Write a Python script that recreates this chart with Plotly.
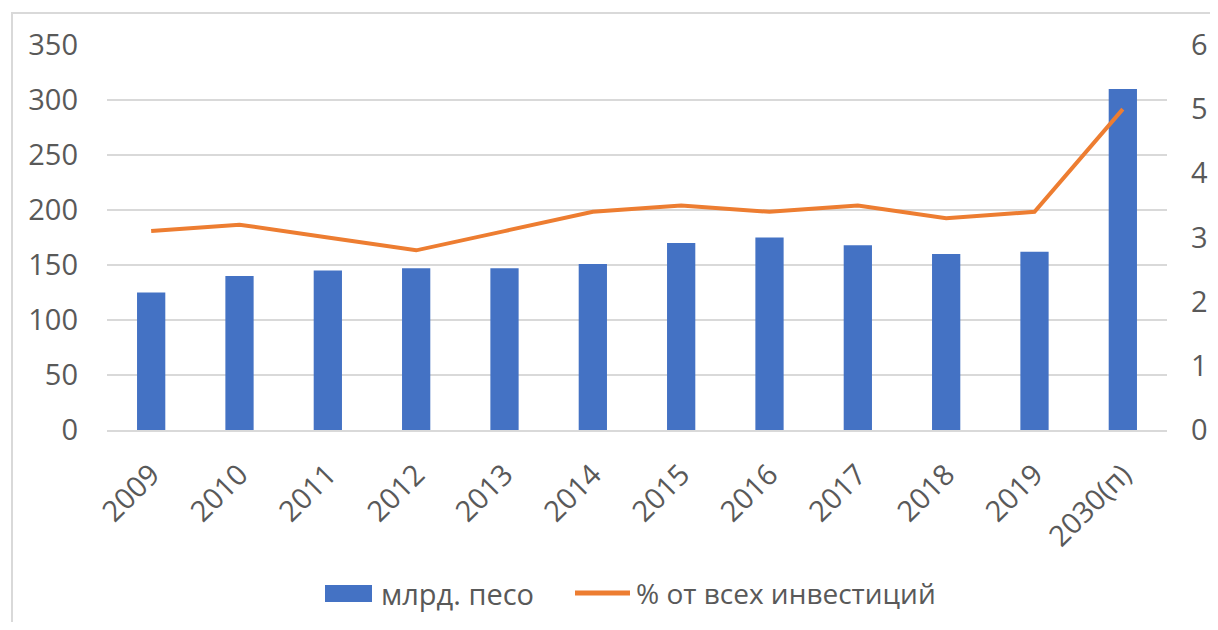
import plotly.graph_objects as go

categories = ["2009", "2010", "2011", "2012", "2013", "2014", "2015", "2016",
              "2017", "2018", "2019", "2030(п)"]
bn_peso = [125, 140, 145, 147, 147, 151, 170, 175, 168, 160, 162, 310]
pct_invest = [3.1, 3.2, 3.0, 2.8, 3.1, 3.4, 3.5, 3.4, 3.5, 3.3, 3.4, 5.0]

bar_name = "млрд. песо"
line_name = "% от всех инвестиций"

FONT = "Open Sans, Noto Sans, sans-serif"
TXT = "#595959"
GRID = "#D9D9D9"
BLUE = "#4472C4"
ORANGE = "#ED7D31"
FS = 29

# figure geometry (page body has an 8px margin)
W, H = 1202, 614
L, R, T, B = 99, 43, 37, 192
PW, PH = W - L - R, H - T - B


def px(x):
    return (x - L) / PW


def py(y):
    return (H - B - y) / PH


fig = go.Figure()
fig.add_trace(go.Bar(x=categories, y=bn_peso, name=bar_name,
                     marker=dict(color=BLUE, line=dict(width=0)),
                     yaxis="y", showlegend=False))
fig.add_trace(go.Scatter(x=categories, y=pct_invest, name=line_name,
                         mode="lines", line=dict(color=ORANGE, width=4),
                         yaxis="y2", showlegend=False))

shapes = [
    dict(type="rect", xref="paper", yref="paper",
         x0=px(4), x1=1.2, y0=-0.7, y1=py(5),
         line=dict(color=GRID, width=2), fillcolor="rgba(0,0,0,0)",
         layer="below"),
    # legend keys
    dict(type="rect", xref="paper", yref="paper",
         x0=px(317), x1=px(364), y0=py(594), y1=py(577),
         line=dict(width=0), fillcolor=BLUE),
    dict(type="line", xref="paper", yref="paper",
         x0=px(567), x1=px(622), y0=py(585), y1=py(585),
         line=dict(color=ORANGE, width=5)),
]
annotations = [
    dict(text=bar_name, xref="paper", yref="paper", x=px(371), y=py(585),
         xanchor="left", yanchor="middle", showarrow=False,
         font=dict(size=FS, color=TXT, family=FONT)),
    dict(text=line_name, xref="paper", yref="paper", x=px(626), y=py(585),
         xanchor="left", yanchor="middle", showarrow=False,
         font=dict(size=FS - 1, color=TXT, family=FONT)),
]

fig.update_layout(
    width=W, height=H,
    margin=dict(l=L, r=R, t=T, b=B, autoexpand=False),
    paper_bgcolor="white", plot_bgcolor="white",
    font=dict(family=FONT, size=FS, color=TXT),
    bargap=0.68,
    showlegend=False,
    xaxis=dict(type="category", tickangle=-45, showgrid=False,
               showline=True, linecolor=GRID, linewidth=2,
               ticks="", ticklabelstandoff=14, automargin=False,
               tickfont=dict(size=FS, color=TXT)),
    yaxis=dict(range=[0, 350], tickvals=[0, 50, 100, 150, 200, 250, 300, 350],
               showgrid=True, gridcolor=GRID, gridwidth=1.5,
               zeroline=False, showline=False, ticks="", automargin=False,
               ticklabelstandoff=28, tickfont=dict(size=FS, color=TXT)),
    yaxis2=dict(range=[0, 6], tickvals=[0, 1, 2, 3, 4, 5, 6],
                overlaying="y", side="right", showgrid=False,
                zeroline=False, showline=False, ticks="", automargin=False,
                ticklabelstandoff=23, tickfont=dict(size=FS, color=TXT)),
    shapes=shapes,
    annotations=annotations,
)

fig.write_html("out.html")
